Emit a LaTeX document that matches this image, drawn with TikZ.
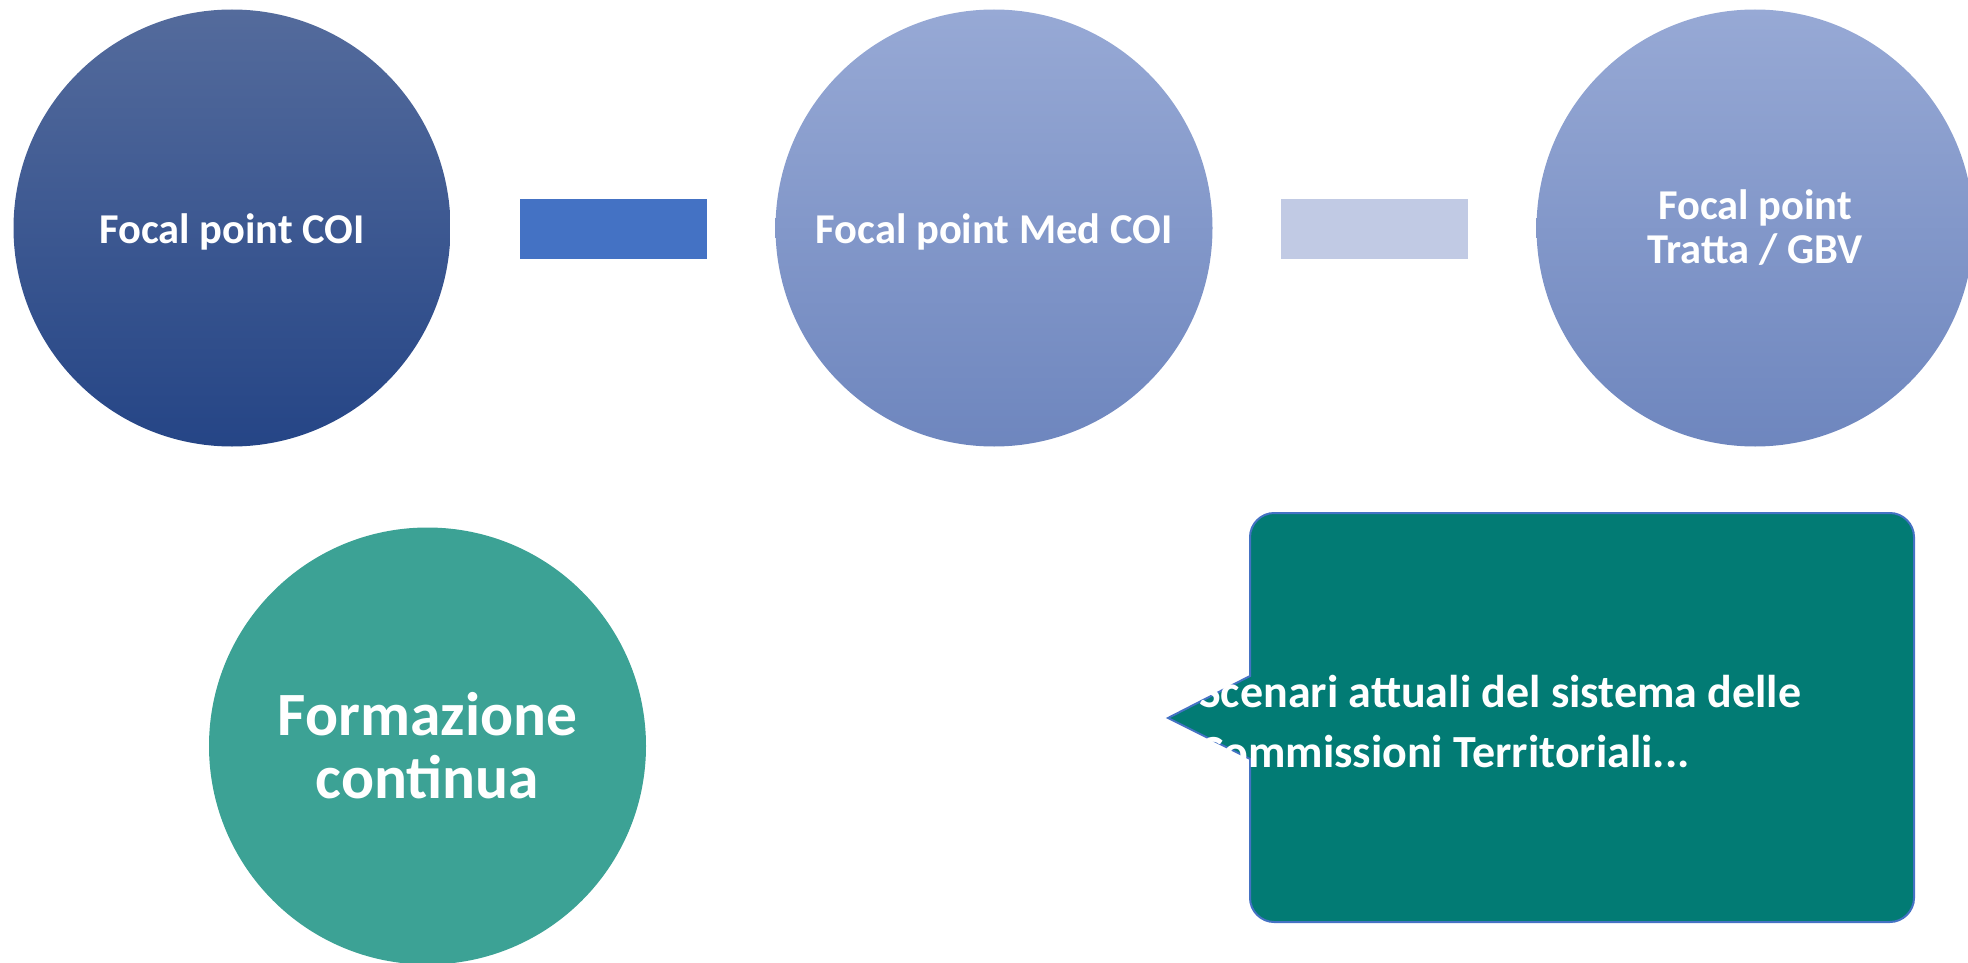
\documentclass[tikz,border=0pt]{standalone}
\usepackage{fontspec}
\setmainfont{Carlito}
\definecolor{cdarkT}{RGB}{84,107,156}
\definecolor{cdarkB}{RGB}{37,69,134}
\definecolor{clightT}{RGB}{151,169,213}
\definecolor{clightB}{RGB}{110,134,190}
\definecolor{rectA}{RGB}{68,114,196}
\definecolor{rectB}{RGB}{193,202,228}
\definecolor{tealC}{RGB}{60,162,149}
\definecolor{tealBox}{RGB}{2,123,116}
\definecolor{boxLine}{RGB}{68,114,196}
\tikzset{
  bubble/.style={circle, minimum size=437pt, inner sep=0pt, text=white, font=\bfseries\fontsize{42.5}{48}\selectfont, align=center},
  darkbubble/.style={bubble, top color=cdarkT, bottom color=cdarkB},
  lightbubble/.style={bubble, top color=clightT, bottom color=clightB},
  linkbar/.style={rectangle, minimum width=187pt, minimum height=60pt, inner sep=0pt},
  bubbletext/.style={text=white, font=\bfseries\fontsize{42.5}{48}\selectfont},
}
\begin{document}
\begin{tikzpicture}[x=1pt,y=-1pt]
\useasboundingbox (0,0) rectangle (1968,963);
\begin{scope}
\clip (0,0) rectangle (1968,963);
\node[darkbubble] (coi) at (232,228) {};
\node[bubbletext] (coit) at (232,232) {Focal point COI};
\node[linkbar, fill=rectA] (barA) at (613.5,228.5) {};
\node[lightbubble] (med) at (994,228) {};
\node[bubbletext] (medt) at (994,232) {Focal point Med COI};
\node[linkbar, fill=rectB] (barB) at (1374.5,228.5) {};
\node[lightbubble] (gbv) at (1755,228) {Focal point\\[-4pt]Tratta / GBV};
\node[bubble, fill=tealC, font=\bfseries\fontsize{61.5}{66}\selectfont] (form) at (427.5,746) {Formazione\\[-3pt]continua};
\draw[draw=boxLine, line width=2pt, fill=tealBox]
  (1250,676) -- (1250,537) .. controls (1250,524) and (1261,513) .. (1274,513)
  -- (1890,513) .. controls (1903,513) and (1914,524) .. (1914,537)
  -- (1914,898) .. controls (1914,911) and (1903,922) .. (1890,922)
  -- (1274,922) .. controls (1261,922) and (1250,911) .. (1250,898)
  -- (1250,759) -- (1168,718) -- cycle;
\node[anchor=base west, inner sep=0pt, text=white, font=\bfseries\fontsize{46}{60}\selectfont, align=left] (scen) at (1199,767) {Scenari attuali del sistema delle\\Commissioni Territoriali...};
\end{scope}
\end{tikzpicture}
\end{document}
